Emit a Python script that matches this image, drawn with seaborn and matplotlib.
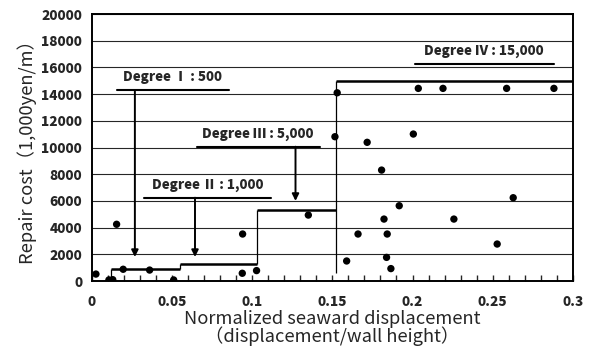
import matplotlib
matplotlib.use("Agg")
import matplotlib.pyplot as plt
import numpy as np
import seaborn as sns

# observed points: normalized seaward displacement vs repair cost (1,000 yen/m)
disp = [0.0025, 0.0106, 0.013, 0.0154, 0.0195, 0.036, 0.051, 0.094, 0.0938,
        0.1027, 0.135, 0.153, 0.1516, 0.1717, 0.1807, 0.2005, 0.2036, 0.219,
        0.2587, 0.2882, 0.2628, 0.1917, 0.1822, 0.2258, 0.166, 0.1842,
        0.2528, 0.1589, 0.1838, 0.1865]
cost = [520, 80, 100, 4250, 880, 820, 80, 3520, 580,
        780, 4940, 14100, 10810, 10390, 8310, 11010, 14430, 14430,
        14430, 14430, 6240, 5640, 4640, 4640, 3520, 3520,
        2770, 1500, 1770, 930]

# damage-degree step function
step_start = [0.012, 0.055, 0.103, 0.152]
step_end = [0.055, 0.103, 0.152, 0.3]
step_level = [900, 1250, 5300, 14950]
riser_low = [0, 900, 1250, 600]
riser_high = [900, 1250, 5300, 14950]

# annotations
deg_labels = ["Degree Ⅰ : 500", "Degree Ⅱ : 1,000", "Degree Ⅲ : 5,000", "Degree Ⅳ : 15,000"]
line_x0 = [0.0156, 0.0324, 0.0653, 0.2015]
line_x1 = [0.0855, 0.112, 0.1422, 0.288]
line_y = [14300, 6240, 10060, 16250]
arrow_x = [0.0268, 0.0643, 0.127, None]
arrow_tip = [1800, 1800, 6000, None]

sns.set_style("white")
plt.rcParams["font.family"] = ["Noto Sans CJK JP", "DejaVu Sans"]

fig = plt.figure(figsize=(5.93, 3.51), dpi=100)
ax = fig.add_axes([0.155, 0.1994, 0.811, 0.7606])

ax.set_xlim(0, 0.3)
ax.set_ylim(0, 20000)
ax.set_yticks(np.arange(0, 20001, 2000))
ax.set_xticks([0, 0.05, 0.1, 0.15, 0.2, 0.25, 0.3])
ax.set_xticklabels(["0", "0.05", "0.1", "0.15", "0.2", "0.25", "0.3"])
ax.set_xticks(np.arange(0, 0.301, 0.01), minor=True)
ax.yaxis.grid(True, color="0.15", lw=0.8)
ax.set_axisbelow(True)

ax.tick_params(axis="x", which="both", direction="in", length=4, width=1,
               pad=10, labelsize=9.8, bottom=True)
ax.tick_params(axis="y", length=0, pad=7, labelsize=9.8)
for lab in ax.get_xticklabels() + ax.get_yticklabels():
    lab.set_fontweight("heavy")
for s in ax.spines.values():
    s.set_color("k")
    s.set_linewidth(1.4)

# step function
ax.hlines(step_level, step_start, step_end, colors="k", lw=1.8, zorder=3)
ax.vlines(step_start, riser_low, riser_high, colors="k", lw=0.9, zorder=3)

sns.scatterplot(x=disp, y=cost, ax=ax, color="k", s=28, edgecolor="none",
                zorder=4, legend=False)

for i, lab in enumerate(deg_labels):
    ax.plot([line_x0[i], line_x1[i]], [line_y[i], line_y[i]], color="k", lw=1.5)
    ax.text((line_x0[i] + line_x1[i]) / 2, line_y[i] + 450, lab,
            ha="center", va="bottom", fontsize=9.6, fontweight="heavy")
    if arrow_x[i] is not None:
        ax.annotate("", xy=(arrow_x[i], arrow_tip[i]), xytext=(arrow_x[i], line_y[i]),
                    arrowprops=dict(arrowstyle="-|>", color="k", lw=1.4,
                                    mutation_scale=10, shrinkA=0, shrinkB=0))

ax.set_ylabel("Repair cost（1,000yen/m）", fontsize=13.2, labelpad=3)
ax.set_xlabel("Normalized seaward displacement\n（displacement/wall height）",
              fontsize=13.2, labelpad=1, linespacing=0.9)

fig.savefig("out.png", dpi=100)
